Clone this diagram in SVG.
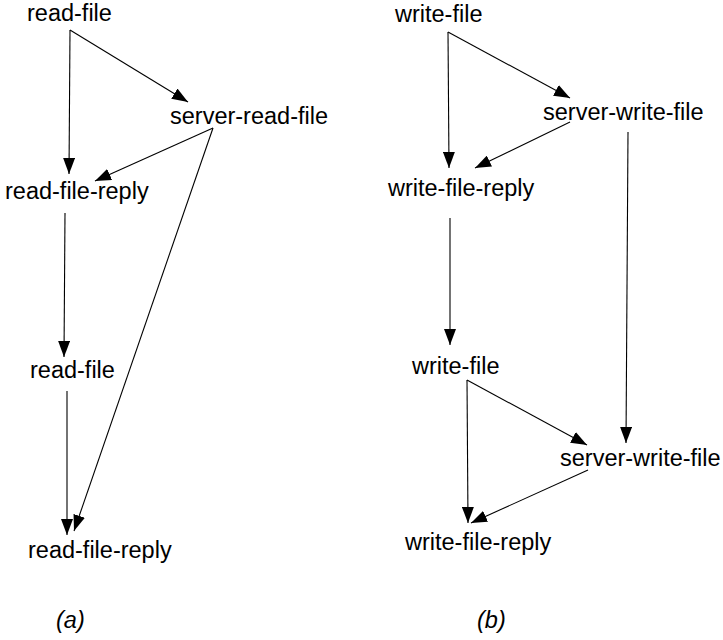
<svg xmlns="http://www.w3.org/2000/svg" width="723" height="640" viewBox="0 0 723 640">
  <style>
    .lbl { font-family: "Liberation Sans", Arial, sans-serif; font-size: 23.5px; fill: #000; }
    .cap { font-family: "Liberation Sans", Arial, sans-serif; font-size: 23.5px; font-style: italic; fill: #000; }
    .edge { stroke: #000; stroke-width: 1.1; fill: none; marker-end: url(#arrow); }
  </style>
  <defs>
    <marker id="arrow" markerUnits="userSpaceOnUse" markerWidth="16" markerHeight="12" refX="16" refY="6" orient="auto">
      <path d="M0,0 L16,6 L0,12 z" fill="#000"/>
    </marker>
  </defs>
  <rect width="723" height="640" fill="#fff"/>

  <!-- connectors -->
  <g id="edges">
    <!-- (a) read protocol -->
    <line class="edge" x1="70" y1="30" x2="188" y2="102"/>
    <line class="edge" x1="70" y1="30" x2="69" y2="174"/>
    <line class="edge" x1="213" y1="128" x2="95" y2="181"/>
    <line class="edge" x1="213" y1="128" x2="74" y2="531"/>
    <line class="edge" x1="65" y1="213" x2="64" y2="357"/>
    <line class="edge" x1="67" y1="391" x2="67" y2="535"/>
    <!-- (b) write protocol -->
    <line class="edge" x1="448" y1="32" x2="570" y2="98"/>
    <line class="edge" x1="448" y1="32" x2="449" y2="168"/>
    <line class="edge" x1="570" y1="122" x2="475" y2="168"/>
    <line class="edge" x1="628" y1="132" x2="626" y2="443"/>
    <line class="edge" x1="450" y1="218" x2="450" y2="345"/>
    <line class="edge" x1="467" y1="380" x2="587" y2="445"/>
    <line class="edge" x1="467" y1="380" x2="468" y2="523"/>
    <line class="edge" x1="588" y1="470" x2="471" y2="523"/>
  </g>

  <!-- (a) nodes -->
  <g id="a-read-file"><text class="lbl" x="27" y="21">read-file</text></g>
  <g id="a-server-read-file"><text class="lbl" x="170" y="124">server-read-file</text></g>
  <g id="a-read-file-reply"><text class="lbl" x="5" y="199">read-file-reply</text></g>
  <g id="a-read-file-2"><text class="lbl" x="30" y="378">read-file</text></g>
  <g id="a-read-file-reply-2"><text class="lbl" x="28" y="558">read-file-reply</text></g>
  <text class="cap" x="56" y="628">(a)</text>

  <!-- (b) nodes -->
  <g id="b-write-file"><text class="lbl" x="395" y="22">write-file</text></g>
  <g id="b-server-write-file"><text class="lbl" x="543" y="120">server-write-file</text></g>
  <g id="b-write-file-reply"><text class="lbl" x="388" y="196">write-file-reply</text></g>
  <g id="b-write-file-2"><text class="lbl" x="412" y="374">write-file</text></g>
  <g id="b-server-write-file-2"><text class="lbl" x="560" y="466">server-write-file</text></g>
  <g id="b-write-file-reply-2"><text class="lbl" x="405" y="550">write-file-reply</text></g>
  <text class="cap" x="477" y="628">(b)</text>
</svg>
